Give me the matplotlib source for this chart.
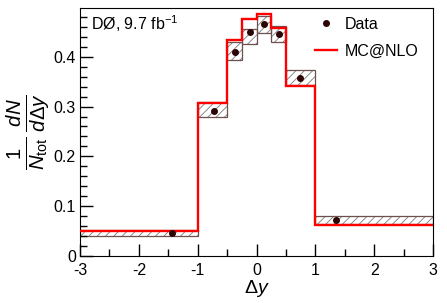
import matplotlib.pyplot as plt
import numpy as np

plt.rcParams['font.family'] = ['Liberation Sans', 'DejaVu Sans']
plt.rcParams['mathtext.fontset'] = 'custom'
plt.rcParams['mathtext.rm'] = 'Liberation Sans'
plt.rcParams['mathtext.it'] = 'Liberation Sans:italic'
plt.rcParams['axes.unicode_minus'] = False
plt.rcParams['hatch.linewidth'] = 0.6

# bin edges in delta y
edges = [-3, -1, -0.5, -0.25, 0, 0.25, 0.5, 1, 3]
# data points (position inside bin, value) and systematic band
data_x = [-1.43, -0.73, -0.37, -0.116, 0.13, 0.378, 0.73, 1.35]
data_y = [0.0457, 0.292, 0.410, 0.449, 0.465, 0.446, 0.358, 0.073]
band_lo = [0.041, 0.279, 0.394, 0.426, 0.448, 0.430, 0.343, 0.065]
band_hi = [0.052, 0.309, 0.429, 0.456, 0.482, 0.461, 0.374, 0.080]
# MC@NLO prediction
mcnlo = [0.050, 0.308, 0.434, 0.475, 0.485, 0.458, 0.342, 0.062]

edges = np.array(edges)
lefts = edges[:-1]
widths = np.diff(edges)
lo = np.array(band_lo)
hi = np.array(band_hi)

fig = plt.figure(figsize=(4.47, 3.03), dpi=100)
ax = fig.add_axes([0.179, 0.155, 0.790, 0.819])

ax.bar(lefts, hi - lo, bottom=lo, width=widths, align='edge', fill=False,
       hatch='////', edgecolor='#7a7a7a', linewidth=0)
ax.bar(lefts, hi - lo, bottom=lo, width=widths, align='edge', fill=False,
       edgecolor='#6e4f4f', linewidth=0.9)
ax.stairs(mcnlo, edges, baseline=None, color='#ff0000', linewidth=1.7,
          label='MC@NLO', zorder=3)
ax.plot(data_x, data_y, 'o', color='#2e0505', markersize=4, label='Data',
        zorder=4)

ax.set_xlim(-3, 3)
ax.set_ylim(0, 0.498)
ax.set_xticks(np.arange(-3, 3.1, 1))
ax.set_xticks(np.arange(-3, 3.1, 0.5), minor=True)
ax.set_yticks([0, 0.1, 0.2, 0.3, 0.4])
ax.set_yticklabels(['0', '0.1', '0.2', '0.3', '0.4'])
ax.set_yticks(np.arange(0, 0.49, 0.02), minor=True)
ax.tick_params(which='both', direction='in', labelsize=11.5, top=False, right=False)
ax.tick_params(which='major', length=9, width=1)
ax.tick_params(which='minor', length=5, width=1)
ax.tick_params(axis='x', pad=5)
ax.tick_params(axis='y', pad=3)

ax.set_xlabel(r'$\mathit{\Delta} y$', fontsize=14, labelpad=0)
ax.set_ylabel(r'$\frac{1}{N_{\mathrm{tot}}}\,\frac{dN}{d\mathit{\Delta} y}$',
              fontsize=21, labelpad=1)

ax.text(0.03, 0.911, r'DØ, 9.7 fb$^{\mathregular{-1}}$', transform=ax.transAxes,
        fontsize=11.5, va='baseline')

h, l = ax.get_legend_handles_labels()
ax.legend(h[::-1], l[::-1], loc='upper left', bbox_to_anchor=(0.665, 0.965),
          frameon=False, fontsize=11.5, handlelength=1.4, handletextpad=0.5,
          labelspacing=0.75, borderpad=0, borderaxespad=0)

plt.savefig('out.png', dpi=100)
